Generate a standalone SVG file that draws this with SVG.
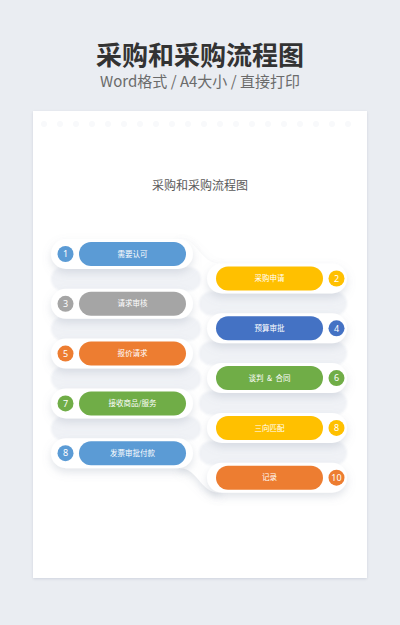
<svg xmlns="http://www.w3.org/2000/svg" width="400" height="625" viewBox="0 0 400 625">
<defs>
<style>
.t{font-family:"Noto Sans CJK SC","Noto Sans",sans-serif;}
.pt{font-family:"Noto Sans CJK SC","Noto Sans",sans-serif;font-size:7.5px;fill:#fff;text-anchor:middle;}
.nt{font-family:"Noto Sans","Noto Sans CJK SC",sans-serif;font-size:9px;fill:#fff;text-anchor:middle;}
.box{fill:#fff;}
.gap{fill:#f0f2f6;}
.dot{fill:#f8f9fb;}
</style>
<filter id="sh" x="-20%" y="-40%" width="140%" height="180%">
<feDropShadow dx="0" dy="4" stdDeviation="4" flood-color="#8a94a8" flood-opacity="0.25"/>
</filter>
<filter id="csh" x="-10%" y="-10%" width="120%" height="120%">
<feDropShadow dx="0" dy="1" stdDeviation="1.5" flood-color="#9aa3b5" flood-opacity="0.35"/>
</filter>
<filter id="gb" x="-10%" y="-30%" width="120%" height="160%">
<feGaussianBlur stdDeviation="1"/>
</filter>
</defs>
<rect width="400" height="625" fill="#eaedf2"/>
<g id="header">
<text class="t" x="200" y="65" font-size="26" font-weight="700" fill="#333" text-anchor="middle">采购和采购流程图</text>
<text class="t" x="200" y="87" font-size="15" fill="#6b6b6b" text-anchor="middle">Word格式 / A4大小 / 直接打印</text>
</g>
<rect x="33" y="111" width="334" height="467" fill="#fff" filter="url(#csh)"/>
<g id="dots">
<circle class="dot" cx="44" cy="124" r="3"/><circle class="dot" cx="60" cy="124" r="3"/><circle class="dot" cx="76" cy="124" r="3"/><circle class="dot" cx="92" cy="124" r="3"/><circle class="dot" cx="108" cy="124" r="3"/><circle class="dot" cx="124" cy="124" r="3"/><circle class="dot" cx="140" cy="124" r="3"/><circle class="dot" cx="156" cy="124" r="3"/><circle class="dot" cx="172" cy="124" r="3"/><circle class="dot" cx="188" cy="124" r="3"/><circle class="dot" cx="204" cy="124" r="3"/><circle class="dot" cx="220" cy="124" r="3"/><circle class="dot" cx="236" cy="124" r="3"/><circle class="dot" cx="252" cy="124" r="3"/><circle class="dot" cx="268" cy="124" r="3"/><circle class="dot" cx="284" cy="124" r="3"/><circle class="dot" cx="300" cy="124" r="3"/><circle class="dot" cx="316" cy="124" r="3"/><circle class="dot" cx="332" cy="124" r="3"/><circle class="dot" cx="348" cy="124" r="3"/>
</g>
<text class="t" x="200" y="190" font-size="12" fill="#595959" text-anchor="middle">采购和采购流程图</text>
<g id="connectors" filter="url(#sh)">
<path class="box" d="M180 239 C198 239 200 263.5 220 263.5 L220 293.5 C200 293.5 198 269 180 269 Z"/>
<path class="box" d="M220 263.5 C202 263.5 200 288.8 180 288.8 L180 318.8 C200 318.8 202 293.5 220 293.5 Z"/>
<path class="box" d="M180 288.8 C198 288.8 200 313.3 220 313.3 L220 343.3 C200 343.3 198 318.8 180 318.8 Z"/>
<path class="box" d="M220 313.3 C202 313.3 200 338.6 180 338.6 L180 368.6 C200 368.6 202 343.3 220 343.3 Z"/>
<path class="box" d="M180 338.6 C198 338.6 200 363.1 220 363.1 L220 393.1 C200 393.1 198 368.6 180 368.6 Z"/>
<path class="box" d="M220 363.1 C202 363.1 200 388.4 180 388.4 L180 418.4 C200 418.4 202 393.1 220 393.1 Z"/>
<path class="box" d="M180 388.4 C198 388.4 200 412.9 220 412.9 L220 442.9 C200 442.9 198 418.4 180 418.4 Z"/>
<path class="box" d="M220 412.9 C202 412.9 200 438.2 180 438.2 L180 468.2 C200 468.2 202 442.9 220 442.9 Z"/>
<path class="box" d="M180 438.2 C198 438.2 200 462.7 220 462.7 L220 492.7 C200 492.7 198 468.2 180 468.2 Z"/>
</g>
<g id="gaps" filter="url(#gb)">
<rect class="gap" x="51" y="267" width="150" height="24" rx="12"/>
<rect class="gap" x="51" y="316.8" width="150" height="24" rx="12"/>
<rect class="gap" x="51" y="366.6" width="150" height="24" rx="12"/>
<rect class="gap" x="51" y="416.4" width="150" height="24" rx="12"/>
<rect class="gap" x="199" y="291.5" width="148" height="24" rx="12"/>
<rect class="gap" x="199" y="341.3" width="148" height="24" rx="12"/>
<rect class="gap" x="199" y="391.1" width="148" height="24" rx="12"/>
<rect class="gap" x="199" y="440.9" width="148" height="24" rx="12"/>
</g>
<g id="containers" filter="url(#sh)">
<rect class="box" x="51" y="239" width="142" height="30" rx="15"/>
<rect class="box" x="51" y="288.8" width="142" height="30" rx="15"/>
<rect class="box" x="51" y="338.6" width="142" height="30" rx="15"/>
<rect class="box" x="51" y="388.4" width="142" height="30" rx="15"/>
<rect class="box" x="51" y="438.2" width="142" height="30" rx="15"/>
<rect class="box" x="207" y="263.5" width="140" height="30" rx="15"/>
<rect class="box" x="207" y="313.3" width="140" height="30" rx="15"/>
<rect class="box" x="207" y="363.1" width="140" height="30" rx="15"/>
<rect class="box" x="207" y="412.9" width="140" height="30" rx="15"/>
<rect class="box" x="207" y="462.7" width="140" height="30" rx="15"/>
</g>
<g id="n1"><circle cx="65.5" cy="254" r="8" fill="#5b9bd5"/><text class="nt" x="65.5" y="257.2">1</text><rect x="79" y="242" width="107" height="24" rx="12" fill="#5b9bd5"/><text class="pt" x="132.5" y="256.6">需要认可</text></g>
<g id="n2"><circle cx="336.5" cy="278.5" r="8" fill="#ffc000"/><text class="nt" x="336.5" y="281.7">2</text><rect x="216" y="266.5" width="107" height="24" rx="12" fill="#ffc000"/><text class="pt" x="269.5" y="281.1">采购申请</text></g>
<g id="n3"><circle cx="65.5" cy="303.8" r="8" fill="#a5a5a5"/><text class="nt" x="65.5" y="307">3</text><rect x="79" y="291.8" width="107" height="24" rx="12" fill="#a5a5a5"/><text class="pt" x="132.5" y="306.4">请求审核</text></g>
<g id="n4"><circle cx="336.5" cy="328.3" r="8" fill="#4472c4"/><text class="nt" x="336.5" y="331.5">4</text><rect x="216" y="316.3" width="107" height="24" rx="12" fill="#4472c4"/><text class="pt" x="269.5" y="330.9">预算审批</text></g>
<g id="n5"><circle cx="65.5" cy="353.6" r="8" fill="#ed7d31"/><text class="nt" x="65.5" y="356.8">5</text><rect x="79" y="341.6" width="107" height="24" rx="12" fill="#ed7d31"/><text class="pt" x="132.5" y="356.2">报价请求</text></g>
<g id="n6"><circle cx="336.5" cy="378.1" r="8" fill="#70ad47"/><text class="nt" x="336.5" y="381.3">6</text><rect x="216" y="366.1" width="107" height="24" rx="12" fill="#70ad47"/><text class="pt" x="269.5" y="380.7" xml:space="preserve">谈判  &amp;  合同</text></g>
<g id="n7"><circle cx="65.5" cy="403.4" r="8" fill="#70ad47"/><text class="nt" x="65.5" y="406.6">7</text><rect x="79" y="391.4" width="107" height="24" rx="12" fill="#70ad47"/><text class="pt" x="132.5" y="406">接收商品/服务</text></g>
<g id="n8"><circle cx="336.5" cy="427.9" r="8" fill="#ffc000"/><text class="nt" x="336.5" y="431.1">8</text><rect x="216" y="415.9" width="107" height="24" rx="12" fill="#ffc000"/><text class="pt" x="269.5" y="430.5">三向匹配</text></g>
<g id="n9"><circle cx="65.5" cy="453.2" r="8" fill="#5b9bd5"/><text class="nt" x="65.5" y="456.4">8</text><rect x="79" y="441.2" width="107" height="24" rx="12" fill="#5b9bd5"/><text class="pt" x="132.5" y="455.8">发票审批付款</text></g>
<g id="n10"><circle cx="336.5" cy="477.7" r="8" fill="#ed7d31"/><text class="nt" x="336.5" y="480.9">10</text><rect x="216" y="465.7" width="107" height="24" rx="12" fill="#ed7d31"/><text class="pt" x="269.5" y="480.3">记录</text></g>
</svg>
